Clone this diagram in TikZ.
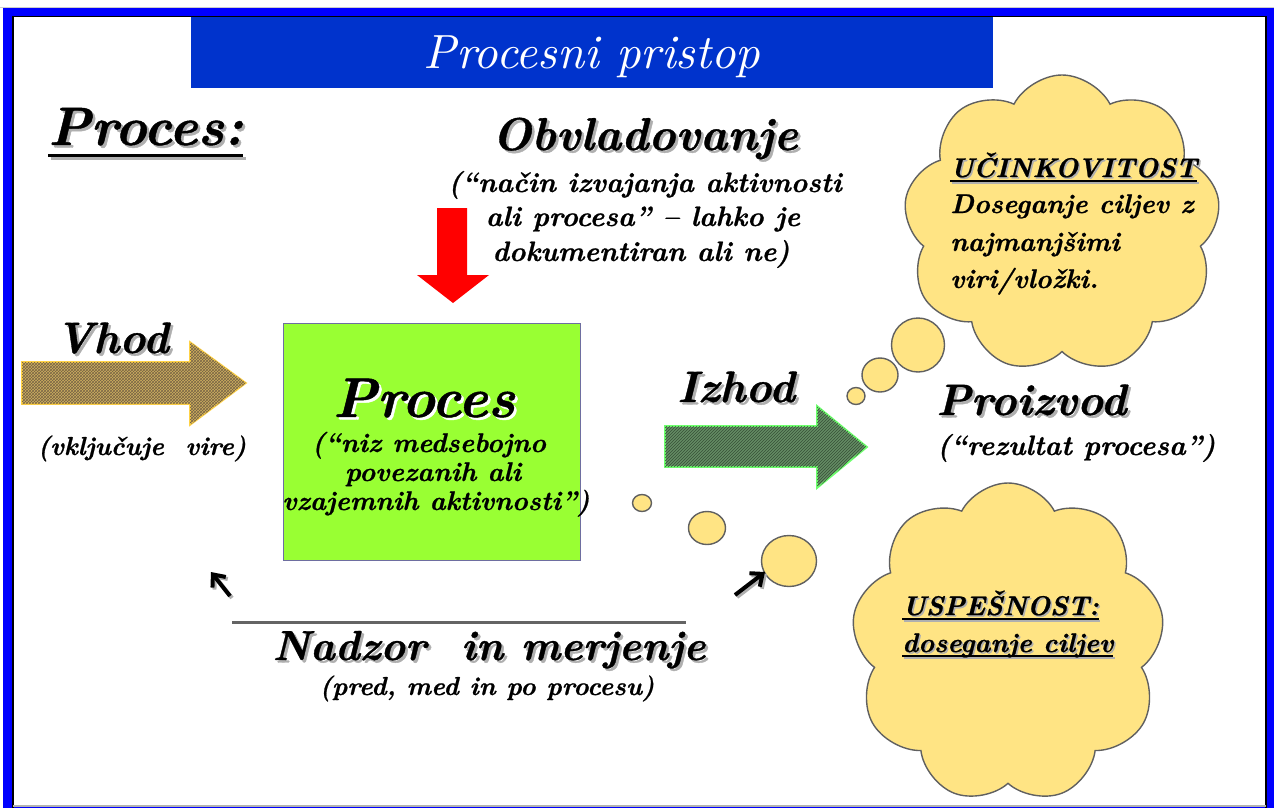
\documentclass[tikz,border=0pt]{standalone}
\usepackage{fontspec}
\setmainfont{lmroman10}[Extension=.otf,
  UprightFont=*-regular, BoldFont=*-bold,
  ItalicFont=*-italic, BoldItalicFont=*-bolditalic,
  BoldItalicFeatures={FakeBold=0.8}]
\usetikzlibrary{shapes.symbols,shapes.geometric,patterns,arrows.meta}

\definecolor{frameblue}{RGB}{0,0,255}
\definecolor{titleblue}{RGB}{0,51,204}
\definecolor{boxgreen}{RGB}{153,255,51}
\definecolor{boxedge}{RGB}{110,110,160}
\definecolor{cloudfill}{RGB}{255,228,132}
\definecolor{cloudedge}{RGB}{96,96,96}
\definecolor{shadowgray}{RGB}{175,175,175}
\definecolor{vhodfill}{RGB}{205,175,95}
\definecolor{vhoddark}{RGB}{120,100,70}
\definecolor{vhodedge}{RGB}{255,210,70}
\definecolor{izhodfill}{RGB}{100,140,100}
\definecolor{izhoddark}{RGB}{55,80,55}
\definecolor{izhodedge}{RGB}{110,255,110}
\definecolor{arrowred}{RGB}{255,0,0}
\definecolor{rulegray}{RGB}{100,100,100}

% font size in pt (1pt = 1 unit of the picture)
\newcommand\setfs[1]{\fontsize{#1}{#1}\selectfont}
% text with a drop shadow: [colour]{offset}{text}
\newcommand\shd[3][shadowgray]{\leavevmode\rlap{\kern#2\raisebox{-#2}{\textcolor{#1}{#3}}}#3}
% thick underline: {depth below baseline}{thickness}{text}
\newcommand\thickul[3]{\leavevmode\setbox0=\hbox{#3}\rlap{\rule[-#1]{\wd0}{#2}}\box0}

\begin{document}
\begin{tikzpicture}[x=1pt,y=-1pt,
  txt/.style={inner sep=0pt, anchor=base, font=\bfseries\itshape},
  txtl/.style={txt, anchor=base west},
  cloudy/.style={cloud, cloud puffs=9, cloud puff arc=125, aspect=1,
    draw=cloudedge, fill=cloudfill, line width=1.4, inner sep=0pt},
  bubble/.style={ellipse, draw=cloudedge, fill=cloudfill, line width=1.4, inner sep=0pt},
  smallarrow/.style={line width=4, -{Straight Barb[length=10pt,width=17pt,line width=4pt]}},
]
\useasboundingbox (0,0) rectangle (1274,808);

% slide frame
\draw[gray!40, line width=1] (0,7.5) -- (1274,7.5);
\fill[frameblue] (3,8) rectangle (1274,808);
\fill[white] (13,16.5) rectangle (1266,805);
\draw[black, line width=1.5] (13,808) -- (13,16.5) -- (1266,16.5) -- (1266,808);
\draw[gray!60, line width=1.5] (13,806) -- (1266,806);

% title bar
\node[fill=titleblue, minimum width=802, minimum height=71, inner sep=0pt, anchor=north west] (titlebar) at (191,17) {};
\node[inner sep=0pt, anchor=base, text=white, font=\itshape\setfs{48}] (title) at (592,68) {Procesni pristop};

% heading
\node[txtl] (heading) at (48,145) {\setfs{54}\shd{2.5pt}{\thickul{12pt}{3pt}{Proces:}}};

% Obvladovanje
\node[txt] (obv) at (645,150) {\setfs{46}\shd{2.5pt}{Obvladovanje}};
\node[txt] (obv1) at (645,192) {\setfs{28}(“način izvajanja aktivnosti};
\node[txt] (obv2) at (643,226) {\setfs{28}ali procesa” – lahko je};
\node[txt] (obv3) at (641,261) {\setfs{28}dokumentiran ali ne)};
\fill[arrowred] (437,208) -- (467,208) -- (467,275) -- (489,275) -- (453,303) -- (417,275) -- (437,275) -- cycle;

% input
\node[txt] (vhod) at (112,353) {\setfs{44}\shd{2.5pt}{Vhod}};
\path[draw=vhodedge, line width=1.6, fill=vhodfill, postaction={pattern=crosshatch, pattern color=vhoddark}]
  (22,362) -- (190,362) -- (190,342) -- (246,383) -- (190,425) -- (190,404) -- (22,404) -- cycle;
\node[txt] (vhodsub) at (142,455) {\setfs{26}(vključuje\ \ vire)};

% process box
\node[draw=boxedge, fill=boxgreen, line width=1.3, minimum width=297, minimum height=237, inner sep=0pt, anchor=north west] (box) at (283,323) {};
\node[txt] (proc) at (424,417) {\setfs{56}\shd[white]{2.5pt}{Proces}};
\node[txt] (proc1) at (429,452) {\setfs{27}(“niz medsebojno};
\node[txt] (proc2) at (433,481) {\setfs{27}povezanih ali};
\node[txt] (proc3) at (436,510) {\setfs{27}vzajemnih aktivnosti”)};

% output
\node[txt] (izhod) at (736,402) {\setfs{44}\shd{2.5pt}{Izhod}};
\path[draw=izhodedge, line width=1.8, fill=izhodfill, postaction={pattern=north east lines, pattern color=izhoddark}]
  (665,426) -- (817,426) -- (817,406) -- (867,447) -- (817,488) -- (817,467) -- (665,467) -- cycle;

% product
\node[txtl] (proiz) at (936,415) {\setfs{44}\shd{2.5pt}{Proizvod}};
\node[txtl] (proizsub) at (937,455) {\setfs{28}(“rezultat procesa”)};

% upper thought cloud
\node[cloudy, minimum width=317, minimum height=298] (cloudA) at (1062,224) {};
\node[bubble, minimum width=53, minimum height=54] (a1) at (918,345) {};
\node[bubble, minimum width=36, minimum height=34] (a2) at (880,375) {};
\node[bubble, minimum width=18, minimum height=17] (a3) at (856,396) {};
\node[txtl] (uc) at (950,177) {\setfs{27}\shd{1.5pt}{\thickul{5pt}{2pt}{UČINKOVITOST}}};
\node[txtl] (uc1) at (950,213) {\setfs{27}Doseganje ciljev z};
\node[txtl] (uc2) at (950,251) {\setfs{27}najmanjšimi};
\node[txtl] (uc3) at (950,288) {\setfs{27}viri/vložki.};

% lower thought cloud
\node[cloudy, minimum width=313, minimum height=320] (cloudB) at (1008,643) {};
\node[bubble, minimum width=19, minimum height=17] (b1) at (642,503) {};
\node[bubble, minimum width=37, minimum height=33] (b2) at (707,528) {};
\node[bubble, minimum width=55, minimum height=51] (b3) at (789,561) {};
\node[txtl] (us) at (902,615) {\setfs{27}\shd{1.5pt}{\thickul{5pt}{2pt}{USPEŠNOST:}}};
\node[txtl] (us1) at (902,652) {\setfs{27}\shd{1.5pt}{\thickul{5pt}{2pt}{doseganje ciljev}}};

% monitoring
\coordinate (lt) at (230,596);
\coordinate (lh) at (211,572);
\coordinate (rt) at (735,595);
\coordinate (rh) at (765,572);
\draw[smallarrow, shadowgray] ([shift={(2,2)}]lt) -- ([shift={(2,2)}]lh);
\draw[smallarrow] (lt) -- (lh);
\draw[smallarrow, shadowgray] ([shift={(2,2)}]rt) -- ([shift={(2,2)}]rh);
\draw[smallarrow] (rt) -- (rh);
\coordinate (ruleL) at (232,622);
\coordinate (ruleR) at (686,622);
\draw[rulegray, line width=3] (ruleL) -- (ruleR);
\node[txt] (nadzor) at (489,660) {\setfs{42}\shd{2.5pt}{Nadzor\ \ in merjenje}};
\node[txt] (nadzorsub) at (487,695) {\setfs{26}(pred, med in po procesu)};
\end{tikzpicture}
\end{document}
